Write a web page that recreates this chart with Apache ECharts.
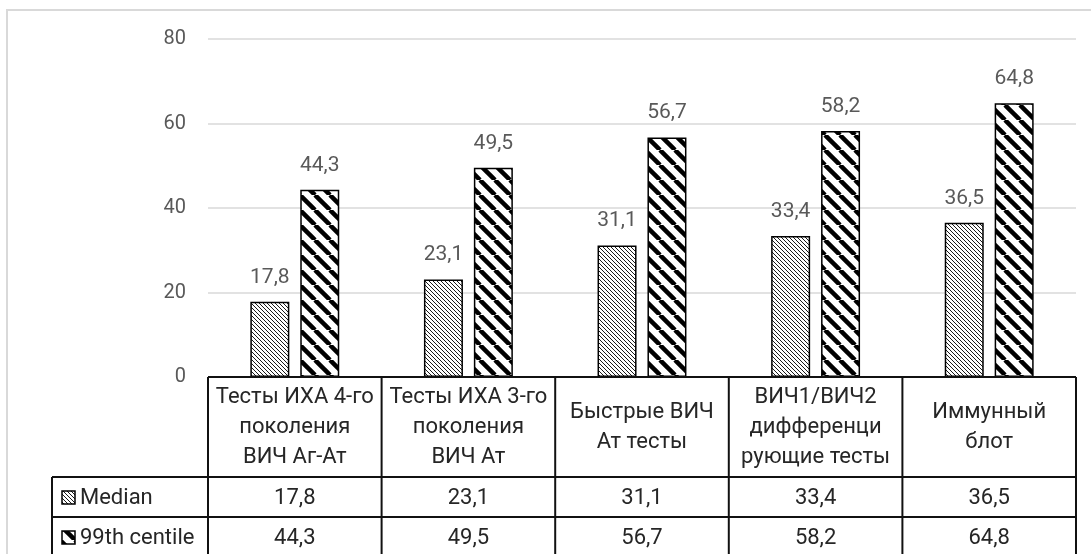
<!DOCTYPE html>
<html><head><meta charset="utf-8">
<script src="https://cdn.jsdelivr.net/npm/echarts@6/dist/echarts.min.js"></script>
<style>html,body{margin:0;padding:0;background:#fff}#chart{width:1091px;height:554px}</style>
</head><body><div id="chart"></div>
<script>
// Category names (multi-line as shown in the data table header)
const categories = [
  'Тесты ИХА 4-го\nпоколения\nВИЧ Аг-Ат',
  'Тесты ИХА 3-го\nпоколения\nВИЧ Ат',
  'Быстрые ВИЧ\nАт тесты',
  'ВИЧ1/ВИЧ2\nдифференци\nрующие тесты',
  'Иммунный\nблот'
];
const seriesNames = ['Median', '99th centile'];
const medianValues = [17.8, 23.1, 31.1, 33.4, 36.5];
const centile99Values = [44.3, 49.5, 56.7, 58.2, 64.8];
const yTicks = [0, 20, 40, 60, 80];

const FONT = 'Roboto, "Noto Sans", sans-serif';
const fmt = v => String(v).replace('.', ',');

// Diagonal "\" hatch tile
function hatch(period, lw, color) {
  const c = document.createElement('canvas');
  c.width = period; c.height = period;
  const g = c.getContext('2d');
  g.fillStyle = '#fff'; g.fillRect(0, 0, period, period);
  g.strokeStyle = color; g.lineWidth = lw;
  for (let k = -1; k <= 1; k++) {
    g.beginPath(); g.moveTo(k * period, 0); g.lineTo(k * period + period, period); g.stroke();
  }
  return c;
}
const fineHatch = { image: hatch(4, 1, '#1a1a1a'), repeat: 'repeat' };
const boldHatch = { image: hatch(15, 4.5, '#000'), repeat: 'repeat' };
const fills = [fineHatch, boldHatch];

const chart = echarts.init(document.getElementById('chart'), null, { renderer: 'canvas' });

const labelStyle = {
  show: true, position: 'top', distance: 14,
  color: '#595959', fontFamily: FONT, fontSize: 21,
  formatter: p => fmt(p.value)
};

chart.setOption({
  animation: false,
  backgroundColor: '#fff',
  grid: { left: 208, right: 15, top: 39, bottom: 177 },
  xAxis: {
    type: 'category', data: categories,
    axisLine: { show: false }, axisTick: { show: false }, axisLabel: { show: false }
  },
  yAxis: {
    type: 'value', min: yTicks[0], max: yTicks[yTicks.length - 1], interval: 20,
    axisLine: { show: false }, axisTick: { show: false },
    axisLabel: { color: '#595959', fontFamily: FONT, fontSize: 20, margin: 22 },
    splitLine: { lineStyle: { color: '#d9d9d9', width: 1.5 } }
  },
  series: [
    {
      name: seriesNames[0], type: 'bar', data: medianValues,
      barWidth: 39, barGap: '28%',
      itemStyle: { color: fineHatch, borderColor: '#000', borderWidth: 1.5 },
      label: labelStyle
    },
    {
      name: seriesNames[1], type: 'bar', data: centile99Values,
      barWidth: 39,
      itemStyle: { color: boldHatch, borderColor: '#000', borderWidth: 1.5 },
      label: labelStyle
    }
  ]
});

// Data table under the plot, aligned to the category bands
function drawTable() {
  const c0 = chart.convertToPixel({ xAxisIndex: 0 }, 0);
  const c1 = chart.convertToPixel({ xAxisIndex: 0 }, 1);
  const band = c1 - c0;
  const left = c0 - band / 2;
  const right = left + band * categories.length;
  const top = chart.convertToPixel({ yAxisIndex: 0 }, 0);
  const headerH = 100, rowH = 40;
  const labelLeft = 52;
  const rowTops = [top + headerH, top + headerH + rowH];
  const bottom = top + headerH + rowH * 2;
  const line = { stroke: '#111', lineWidth: 2 };
  const textFont = '22px ' + FONT;
  const els = [];

  // light chart frame
  els.push({ type: 'rect', shape: { x: 7, y: 10, width: 1200, height: 700 },
    style: { fill: 'none', stroke: '#d9d9d9', lineWidth: 2 }, z: 0 });

  els.push({ type: 'line', shape: { x1: left, y1: top, x2: right, y2: top }, style: line, z: 10 });
  rowTops.concat([bottom]).forEach(y =>
    els.push({ type: 'line', shape: { x1: labelLeft, y1: y, x2: right, y2: y }, style: line, z: 10 }));
  for (let i = 0; i <= categories.length; i++) {
    const x = left + band * i;
    els.push({ type: 'line', shape: { x1: x, y1: top, x2: x, y2: bottom }, style: line, z: 10 });
  }
  els.push({ type: 'line', shape: { x1: labelLeft, y1: rowTops[0], x2: labelLeft, y2: bottom }, style: line, z: 10 });

  categories.forEach((cat, i) => {
    els.push({ type: 'text', z: 11, style: {
      text: cat, x: left + band * (i + 0.5), y: top + headerH / 2,
      align: 'center', verticalAlign: 'middle', lineHeight: 30,
      fill: '#262626', font: textFont } });
  });

  const rows = [medianValues, centile99Values];
  rows.forEach((vals, r) => {
    const mid = rowTops[r] + rowH / 2;
    els.push({ type: 'rect', z: 11, shape: { x: 62, y: mid - 6, width: 13, height: 13 },
      style: { fill: fills[r], stroke: '#000', lineWidth: 1.5 } });
    els.push({ type: 'text', z: 11, style: {
      text: seriesNames[r], x: 80, y: mid + 1, align: 'left', verticalAlign: 'middle',
      fill: '#262626', font: textFont } });
    vals.forEach((v, i) => {
      els.push({ type: 'text', z: 11, style: {
        text: fmt(v), x: left + band * (i + 0.5), y: mid + 1,
        align: 'center', verticalAlign: 'middle',
        fill: '#262626', font: textFont } });
    });
  });
  chart.setOption({ graphic: { elements: els } });
}
drawTable();
</script>
</body></html>
